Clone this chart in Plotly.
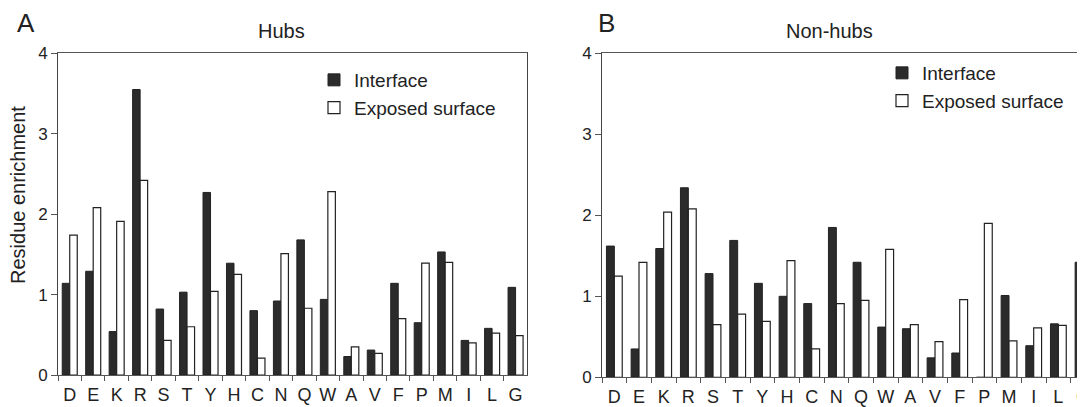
import plotly.graph_objects as go

residues = ["D", "E", "K", "R", "S", "T", "Y", "H", "C", "N",
            "Q", "W", "A", "V", "F", "P", "M", "I", "L", "G"]

hubs_interface = [1.14, 1.29, 0.54, 3.55, 0.82, 1.03, 2.27, 1.39, 0.80, 0.92,
                  1.68, 0.94, 0.23, 0.31, 1.14, 0.65, 1.53, 0.43, 0.58, 1.09]
hubs_exposed = [1.74, 2.08, 1.91, 2.42, 0.43, 0.60, 1.04, 1.25, 0.21, 1.51,
                0.83, 2.28, 0.35, 0.27, 0.70, 1.39, 1.40, 0.40, 0.52, 0.49]

nonhubs_interface = [1.62, 0.35, 1.59, 2.34, 1.28, 1.69, 1.16, 1.00, 0.91, 1.85,
                     1.42, 0.62, 0.60, 0.24, 0.30, 0.00, 1.01, 0.39, 0.66, 1.42]
nonhubs_exposed = [1.25, 1.42, 2.04, 2.08, 0.65, 0.78, 0.69, 1.44, 0.35, 0.91,
                   0.95, 1.58, 0.65, 0.44, 0.96, 1.90, 0.45, 0.61, 0.64, 0.49]

y_ticks = [0, 1, 2, 3, 4]

FONT = "Liberation Sans, Arial, Helvetica, sans-serif"
TXT = "#222222"
DARK = "#2b2b2b"
EDGE = "#222222"
AXIS = "#555555"

# the page body adds an 8px margin, so the figure is sized to fill the window
OFF = 8
WIN_W, WIN_H = 1085, 407
W, H = WIN_W - OFF, WIN_H - OFF


def px_x(p):
    return (p - OFF) / W


def px_y(p):
    return (H - (p - OFF)) / H


fig = go.Figure()

fig.add_trace(go.Bar(x=residues, y=hubs_interface, name="Interface",
                     marker=dict(color=DARK, line=dict(color=EDGE, width=1)),
                     xaxis="x", yaxis="y", legend="legend"))
fig.add_trace(go.Bar(x=residues, y=hubs_exposed, name="Exposed surface",
                     marker=dict(color="white", line=dict(color=EDGE, width=1.2)),
                     xaxis="x", yaxis="y", legend="legend"))
fig.add_trace(go.Bar(x=residues, y=nonhubs_interface, name="Interface",
                     marker=dict(color=DARK, line=dict(color=EDGE, width=1)),
                     xaxis="x2", yaxis="y2", legend="legend2"))
fig.add_trace(go.Bar(x=residues, y=nonhubs_exposed, name="Exposed surface",
                     marker=dict(color="white", line=dict(color=EDGE, width=1.2)),
                     xaxis="x2", yaxis="y2", legend="legend2"))

xcommon = dict(type="category", tickson="boundaries", ticks="outside", ticklen=5,
               tickcolor=AXIS, showline=True, linecolor=AXIS, linewidth=1,
               mirror=True, showgrid=False, zeroline=False, tickangle=0,
               automargin=False, ticklabelstandoff=3,
               tickfont=dict(family=FONT, size=18, color=TXT))
ycommon = dict(range=[0, 4], tickvals=y_ticks, ticks="outside", ticklen=6,
               tickcolor=AXIS, showline=True, linecolor="#444444", linewidth=1,
               showgrid=False, zeroline=False, automargin=False,
               tickfont=dict(family=FONT, size=17, color=TXT))

fig.update_layout(
    width=W, height=H,
    margin=dict(l=0, r=0, t=0, b=0, autoexpand=False),
    paper_bgcolor="white", plot_bgcolor="white",
    barmode="group", bargap=0.36, bargroupgap=0,
    font=dict(family=FONT, color=TXT),
    xaxis=dict(domain=[px_x(58), px_x(527.3)], range=[-0.5, 19.5],
               anchor="y", **xcommon),
    yaxis=dict(domain=[px_y(375), px_y(53.3)], anchor="x", mirror=True, **ycommon),
    xaxis2=dict(domain=[px_x(602), 1.0], range=[-0.5, 19.08],
                anchor="y2", **xcommon),
    yaxis2=dict(domain=[px_y(377.3), px_y(53.3)], anchor="x2", mirror=False, **ycommon),
    legend=dict(x=px_x(314), y=px_y(61), xanchor="left", yanchor="top",
                bgcolor="rgba(0,0,0,0)", borderwidth=0,
                font=dict(family=FONT, size=19, color=TXT),
                tracegroupgap=0, itemclick=False),
    legend2=dict(x=px_x(882), y=px_y(54), xanchor="left", yanchor="top",
                 bgcolor="rgba(0,0,0,0)", borderwidth=0,
                 font=dict(family=FONT, size=19, color=TXT),
                 tracegroupgap=0, itemclick=False),
    annotations=[
        dict(text="A", x=px_x(15), y=px_y(23), xref="paper", yref="paper",
             xanchor="left", yanchor="middle", showarrow=False,
             font=dict(family=FONT, size=26, color=TXT)),
        dict(text="B", x=px_x(596), y=px_y(23), xref="paper", yref="paper",
             xanchor="left", yanchor="middle", showarrow=False,
             font=dict(family=FONT, size=26, color=TXT)),
        dict(text="Hubs", x=px_x(281.5), y=px_y(31), xref="paper", yref="paper",
             xanchor="center", yanchor="middle", showarrow=False,
             font=dict(family=FONT, size=20, color=TXT)),
        dict(text="Non-hubs", x=px_x(829), y=px_y(31), xref="paper", yref="paper",
             xanchor="center", yanchor="middle", showarrow=False,
             font=dict(family=FONT, size=20, color=TXT)),
        dict(text="Residue enrichment", x=px_x(18), y=px_y(195), xref="paper",
             yref="paper", xanchor="center", yanchor="middle", textangle=-90,
             showarrow=False, font=dict(family=FONT, size=20, color=TXT)),
    ],
)

fig.write_html("out.html")
